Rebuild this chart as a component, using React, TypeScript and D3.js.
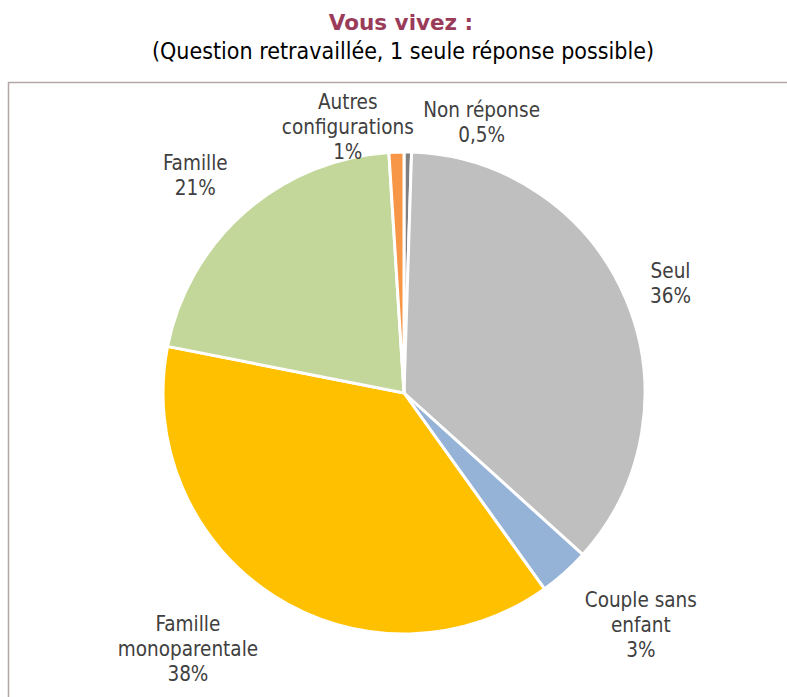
import React from "react";
import * as d3 from "d3";

const categories = ["Non réponse", "Seul", "Couple sans enfant", "Famille monoparentale", "Famille", "Autres configurations"];
const values = [0.5, 36.2, 3.4, 38.0, 20.9, 1.0];
const valueLabels = ["0,5%", "36%", "3%", "38%", "21%", "1%"];
const labelLines = [["Non réponse"], ["Seul"], ["Couple sans", "enfant"], ["Famille", "monoparentale"], ["Famille"], ["Autres", "configurations"]];
const colors = ["#7f7f7f", "#bfbfbf", "#95b3d7", "#ffc000", "#c4d79b", "#f79646"];

// label nudges relative to generic radial placement
const nudges: [number, number][] = [[73, 23], [-4, 6], [41, 13], [-57, 9], [-15, 4], [-47, 28]];

const W = 787, H = 697;
const cx = 404, cy = 393, R = 241;
const font = "'DejaVu Sans Condensed', 'DejaVu Sans', sans-serif";

export default function App() {
  const pie = d3.pie<number>().sort(null).value((d) => d).startAngle(0).endAngle(2 * Math.PI);
  const arcs = pie(values);
  const arc = d3.arc<d3.PieArcDatum<number>>().innerRadius(0).outerRadius(R);
  const labelArc = d3.arc<d3.PieArcDatum<number>>().innerRadius(R * 1.22).outerRadius(R * 1.22);
  const lh = 25;
  return (
    <svg width={W} height={H} style={{ position: "absolute", left: 0, top: 0, background: "#fff" }}>
      <text x={401} y={22} textAnchor="middle" dominantBaseline="central" fontFamily="'DejaVu Sans', sans-serif" fontWeight="bold" fontSize={21.5} fill="#9b3b5a">Vous vivez :</text>
      <text x={403} y={51} textAnchor="middle" dominantBaseline="central" fontFamily={font} fontStretch="condensed" fontSize={23} fill="#000">(Question retravaillée, 1 seule réponse possible)</text>
      <path d={`M8.5,${H + 5} V82.5 H${W + 5}`} fill="none" stroke="#b5a6a6" strokeWidth={1.5} />
      <g transform={`translate(${cx},${cy})`}>
        {arcs.map((a, i) => (
          <path key={categories[i]} d={arc(a) || ""} fill={colors[i]} stroke="#fff" strokeWidth={3} strokeLinejoin="miter" />
        ))}
        {arcs.map((a, i) => {
          const [px, py] = labelArc.centroid(a);
          const lx = px + nudges[i][0];
          const ly = py + nudges[i][1];
          const lines = [...labelLines[i], valueLabels[i]];
          const y0 = ly - ((lines.length - 1) * lh) / 2;
          return (
            <text key={"l" + i} textAnchor="middle" dominantBaseline="central" fontFamily={font} fontStretch="condensed" fontSize={20.5} fill="#404040">
              {lines.map((t, j) => (
                <tspan key={j} x={lx} y={y0 + j * lh}>{t}</tspan>
              ))}
            </text>
          );
        })}
      </g>
    </svg>
  );
}
